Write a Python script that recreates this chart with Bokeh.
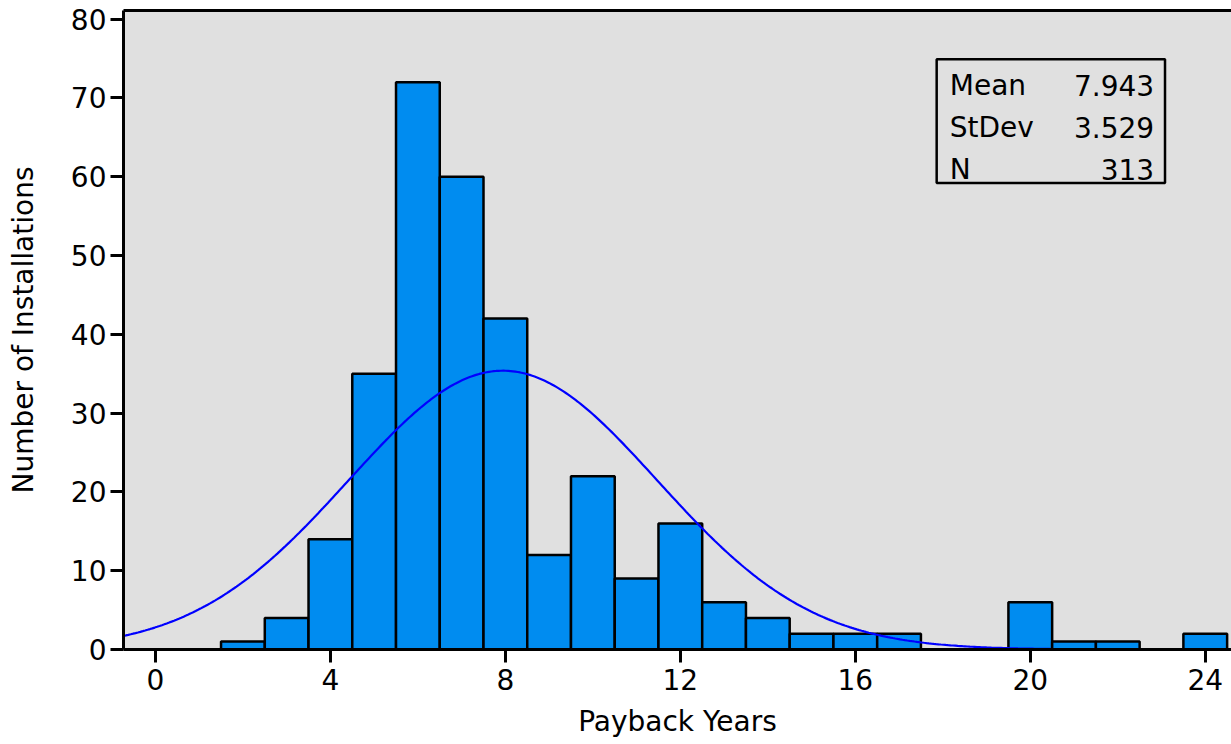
import numpy as np
from bokeh.plotting import figure
from bokeh.models import LinearAxis, Range1d, FixedTicker, Label, BoxAnnotation
from bokeh.embed import file_html
from bokeh.resources import INLINE

# ---- data ----
bin_centers = [2, 3, 4, 5, 6, 7, 8, 9, 10, 11, 12, 13, 14, 15, 16, 17, 18, 19, 20, 21, 22, 23, 24]
counts = [1, 4, 14, 35, 72, 60, 42, 12, 22, 9, 16, 6, 4, 2, 2, 2, 0, 0, 6, 1, 1, 0, 2]
stat_names = ["Mean", "StDev", "N"]
stat_values = ["7.943", "3.529", "313"]
mean_val = 7.943
std_val = 3.529
n_val = 313
x_ticks = [0, 4, 8, 12, 16, 20, 24]
y_ticks = [0, 10, 20, 30, 40, 50, 60, 70, 80]

FONT = "DejaVu Sans"
FS = "28px"

p = figure(width=1231, height=744, output_backend="svg", toolbar_location=None,
           x_range=Range1d(-0.73, 24.6), y_range=Range1d(0, 81.1),
           min_border_left=123, min_border_top=10, min_border_right=0, min_border_bottom=95)
p.background_fill_color = "#e0e0e0"
p.border_fill_color = "white"
p.outline_line_color = None
p.xgrid.visible = False
p.ygrid.visible = False

# bars
bw = 1.0
p.quad(left=[c - bw / 2 for c in bin_centers], right=[c + bw / 2 for c in bin_centers],
       bottom=0, top=counts, fill_color="#008cf0", line_color="black", line_width=2.5)

# normal fit curve
xs = np.linspace(-0.73, 21.2, 400)
ys = n_val * bw * np.exp(-0.5 * ((xs - mean_val) / std_val) ** 2) / (std_val * np.sqrt(2 * np.pi))
p.line(xs, ys, line_color="#0000ff", line_width=2.2)

# axes styling
for ax in (p.xaxis[0], p.yaxis[0]):
    ax.axis_line_width = 3
    ax.axis_line_color = "black"
    ax.major_tick_line_width = 3
    ax.major_tick_line_color = "black"
    ax.major_tick_in = 0
    ax.major_tick_out = 13
    ax.minor_tick_line_color = None
    ax.major_label_text_font = FONT
    ax.major_label_text_font_size = FS
    ax.major_label_text_color = "black"
    ax.axis_label_text_font = FONT
    ax.axis_label_text_font_size = FS
    ax.axis_label_text_font_style = "normal"
    ax.axis_label_text_color = "black"

p.xaxis.ticker = FixedTicker(ticks=x_ticks)
p.yaxis.ticker = FixedTicker(ticks=y_ticks)
p.xaxis.axis_label = "Payback Years"
p.yaxis.axis_label = "Number of Installations"
p.xaxis.axis_label_standoff = 12
p.yaxis.axis_label_standoff = 28
p.xaxis.major_label_standoff = 6
p.yaxis.major_label_standoff = 4

# top frame line
top_ax = LinearAxis(axis_line_width=3, axis_line_color="black",
                    major_tick_line_color=None, minor_tick_line_color=None,
                    major_label_text_font_size="0px", ticker=FixedTicker(ticks=[]))
p.add_layout(top_ax, "above")

# stats box
p.add_layout(BoxAnnotation(left=17.86, right=23.08, bottom=59.2, top=74.9,
                           fill_color="#e0e0e0", fill_alpha=1.0,
                           line_color="black", line_alpha=1.0, line_width=2.5))
row_y = [71.6, 66.3, 60.95]
for name, val, yy in zip(stat_names, stat_values, row_y):
    p.add_layout(Label(x=18.16, y=yy, text=name, text_font=FONT, text_font_size=FS,
                       text_baseline="middle", text_align="left", text_color="black"))
    p.add_layout(Label(x=22.83, y=yy, text=val, text_font=FONT, text_font_size=FS,
                       text_baseline="middle", text_align="right", text_color="black"))

open("out.html", "w").write(file_html(p, INLINE))
